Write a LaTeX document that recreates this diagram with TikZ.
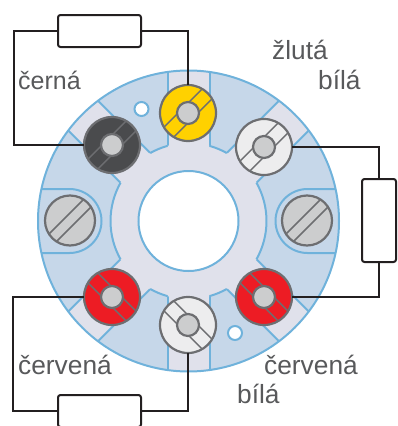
\documentclass[tikz,border=0pt]{standalone}
\usepackage{fontspec}
\setmainfont{Liberation Sans}
\definecolor{wire}{HTML}{231F20}
\definecolor{edge}{HTML}{6FB2DB}
\definecolor{bluef}{HTML}{C6D7E9}
\definecolor{lav}{HTML}{E0E1EB}
\definecolor{scr}{HTML}{6D6E71}
\definecolor{hd}{HTML}{CCCDCE}
\definecolor{txt}{HTML}{58595B}
\definecolor{yel}{HTML}{FFD100}
\definecolor{blk}{HTML}{4A4B4D}
\definecolor{wht}{HTML}{EDEDEE}
\definecolor{redf}{HTML}{ED1C24}
\tikzset{
  x=1pt,y=-1pt,
  wireline/.style={draw=wire,line width=2pt,line join=miter},
  resbox/.style={draw=wire,line width=2pt,fill=white,rounded corners=2.5pt,inner sep=0pt,outer sep=0pt},
  label/.style={text=txt,font=\fontsize{26.3}{26.3}\selectfont,inner sep=0pt,anchor=base west},
  edgeline/.style={draw=edge,line width=2pt},
  screwbody/.style={circle,draw=scr,line width=2.2pt,inner sep=0pt,outer sep=0pt,minimum size=#1},
}
% \termscrew{name}{x}{y}{colour}{slot angle}
\newcommand{\termscrew}[5]{%
  \node[screwbody=56pt,fill=#4] (#1) at (#2,#3) {};
  \begin{scope}[shift={(#2,#3)},rotate=#5]
    \draw[draw=scr,line width=1.5pt] (-26.5,-7)--(26.5,-7) (-26.5,7)--(26.5,7);
  \end{scope}
  \node[circle,draw=scr,line width=2.2pt,fill=hd,minimum size=22pt,inner sep=0pt] at (#2,#3) {};
}
\newcommand{\sidescrew}[3]{%
  \node[screwbody=50pt,fill=hd] (#1) at (#2,#3) {};
  \begin{scope}[shift={(#2,#3)},rotate=45]
    \draw[draw=scr,line width=1.5pt] (-24,-5.3)--(24,-5.3) (-24,5.3)--(24,5.3);
  \end{scope}
}
\begin{document}
\begin{tikzpicture}
\useasboundingbox (0,0) rectangle (397,426);
\def\cx{188.5}\def\cy{221}
\begin{scope}[shift={(\cx,\cy)}]
  \fill[bluef] (0,0) circle[radius=150.5];
  \begin{scope}
    \clip (0,0) circle[radius=150.5];
    \foreach \a in {-90,-45,45,90,135,-135}{
      \begin{scope}[rotate=\a]
        \fill[lav] (0,-21) rectangle (155,21);
        \draw[edgeline] (75.1,-21)--(155,-21) (75.1,21)--(155,21);
      \end{scope}
    }
  \end{scope}
  \fill[lav] (0,0) circle[radius=78];
  % hub arcs between arms (y axis points down, so angles run clockwise)
  \foreach \s/\e in {-29.4/29.4,150.6/209.4,60.6/74.4,105.6/119.4,240.6/254.4,285.6/299.4}{
    \draw[edgeline] (\s:78) arc[start angle=\s,end angle=\e,radius=78];
  }
  % side pockets
  \draw[edgeline] (147,-32)--(119,-32) arc[start angle=-90,end angle=-270,radius=32]--(147,32);
  \draw[edgeline] (-147,-32)--(-119,-32) arc[start angle=-90,end angle=90,radius=32]--(-147,32);
  \draw[edgeline,fill=white] (0,0) circle[radius=50];
  \draw[edgeline] (0,0) circle[radius=150.5];
\end{scope}
\node[circle,draw=edge,line width=2pt,fill=white,minimum size=14pt,inner sep=0pt] (holeA) at (141.5,109) {};
\node[circle,draw=edge,line width=2pt,fill=white,minimum size=14pt,inner sep=0pt] (holeB) at (235,333) {};
\termscrew{yellow}{188}{113}{yel}{45}
\termscrew{black}{112}{145}{blk}{45}
\termscrew{whiteA}{264}{147}{wht}{45}
\termscrew{redA}{112}{297}{redf}{-45}
\termscrew{redB}{264}{297}{redf}{-45}
\termscrew{whiteB}{188}{325}{wht}{-45}
\sidescrew{greyL}{70}{220.5}
\sidescrew{greyR}{307}{220.5}
\node[resbox,minimum width=83pt,minimum height=32pt] (resT) at (99.5,31) {};
\node[resbox,minimum width=34pt,minimum height=83pt] (resR) at (379,220.5) {};
\node[resbox,minimum width=83pt,minimum height=32pt] (resB) at (99.5,411) {};
\coordinate (cTL) at (14,31);
\coordinate (cBL) at (13,411);
\draw[wireline] (resT.west)--(cTL)|-(black.west);
\draw[wireline] (resT.east)-|(yellow.north);
\draw[wireline] (whiteA.east)-|(resR.north);
\draw[wireline] (redB.east)-|(resR.south);
\draw[wireline] (resB.west)--(cBL)|-(redA.west);
\draw[wireline] (resB.east)-|(whiteB.south);
\node[label] (t1) at (272,59) {žlutá};
\node[label] (t2) at (318,89) {bílá};
\node[label,font=\fontsize{25}{25}\selectfont] (t3) at (18,89) {černá};
\node[label] (t4) at (18,374) {červená};
\node[label] (t5) at (264,374) {červená};
\node[label] (t6) at (237,403) {bílá};
\end{tikzpicture}
\end{document}
